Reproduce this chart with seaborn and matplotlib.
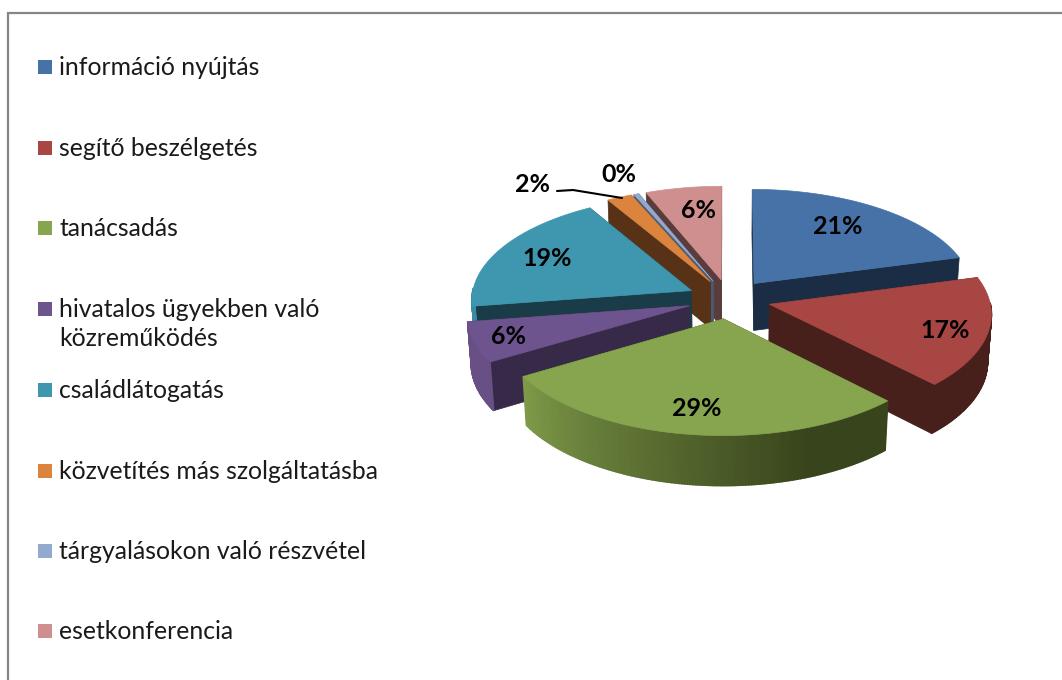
# -*- coding: utf-8 -*-
import numpy as np
import matplotlib
matplotlib.use("Agg")
import matplotlib.pyplot as plt
import seaborn as sns

# ==============================================================================
# DATOS
# ==============================================================================
categorias = ["információ nyújtás", "segítő beszélgetés", "tanácsadás",
              "hivatalos ügyekben való\nközreműködés", "családlátogatás",
              "közvetítés más szolgáltatásba", "tárgyalásokon való részvétel",
              "esetkonferencia"]
valores = [20.8, 17, 28.6, 6.2, 18.9, 2, 0.4, 6.1]

colores_top = ["#4672a8", "#a84644", "#87a54e", "#6e548e", "#3f96af", "#db843d", "#93a9cf", "#ce8f8e"]
colores_pared = ["#1a2d44", "#47201c", "#38441c", "#372a48", "#1a3c48", "#573217", "#4a5a75", "#5a3c3c"]

# layout (pixeles de la imagen)
LEYENDA_Y = [67, 148, 228, 309, 390, 471, 551, 631]
ETIQUETA_XY = [(838, 226), (945, 330), (697, 408), (508, 336), (547, 258), (533, 184), (619, 174), (699, 211)]

CX, CY = 729, 299
RX, RY = 220, 104
ALTO = 48
EXPLODE = 0.19
PERSP = 0.08
PERSP_Z = 0.015


def proyectar(x, y, z=0.0):
    p = 1 / (1 + PERSP * y + PERSP_Z * z)
    return CX + RX * x * p, CY + (-RY * y + ALTO * z) * p


def main():
    sns.set_theme(style="white")
    plt.rcParams["font.family"] = ["Lato", "DejaVu Sans"]

    fig, ax = plt.subplots(figsize=(10.62, 6.8), dpi=100)
    fig.subplots_adjust(0, 0, 1, 1)
    ax.set_xlim(0, 1062)
    ax.set_ylim(680, 0)
    ax.axis("off")

    # marco del grafico
    ax.plot([8, 8, 1062], [680, 13, 13], color="#868686", lw=1.6, solid_joinstyle="miter")

    fracs = np.array(valores) / np.sum(valores) * 360
    fin = np.cumsum(fracs)
    ini = fin - fracs
    medio = np.radians((ini + fin) / 2)

    # de atras hacia adelante
    orden = np.argsort(-np.cos(medio))
    for i in orden:
        ox, oy = EXPLODE * np.sin(medio[i]), EXPLODE * np.cos(medio[i])
        th = np.radians(np.linspace(ini[i], fin[i], max(int(fracs[i] * 1.5), 4)))
        bx, by = ox + np.sin(th), oy + np.cos(th)
        top = colores_top[i]
        pared = colores_pared[i]

        # paredes radiales
        for k in (0, -1):
            esquinas = [(ox, oy, 0), (bx[k], by[k], 0), (bx[k], by[k], 1), (ox, oy, 1)]
            xs, ys = zip(*[proyectar(*e) for e in esquinas])
            ax.fill(xs, ys, color=pared, lw=0.5)

        # borde exterior con degradado, solo la parte que mira al frente
        grad = sns.blend_palette([top, pared], 101)
        for j in range(len(th) - 1):
            medio_j = (th[j] + th[j + 1]) / 2
            if np.cos(medio_j) > 0.02:
                continue
            t = np.clip((250 - np.degrees(medio_j)) / 90, 0.12, 1)
            esquinas = [(bx[j], by[j], 0), (bx[j + 1], by[j + 1], 0), (bx[j + 1], by[j + 1], 1), (bx[j], by[j], 1)]
            xs, ys = zip(*[proyectar(*e) for e in esquinas])
            ax.fill(xs, ys, color=grad[int(t * 100)], lw=1.2)

        # cara superior
        xs, ys = proyectar(np.r_[ox, bx], np.r_[oy, by])
        ax.fill(xs, ys, color=top, lw=0.5)

    # etiquetas de datos
    for v, xy in zip(valores, ETIQUETA_XY):
        ax.text(xy[0], xy[1], f"{v:.0f}%", fontsize=18, fontweight="bold", color="black",
                ha="center", va="center")

    # linea guia del 2%
    ax.plot([557, 573, 622], [191, 190, 198], color="black", lw=1.5)

    # leyenda
    for nombre, color, y in zip(categorias, colores_top, LEYENDA_Y):
        ax.add_patch(plt.Rectangle((38, y - 7), 14, 14, color=color, lw=0))
        ax.text(59, y - 11, nombre, fontsize=17.8, color="#1a1a1a", ha="left", va="top",
                linespacing=1.34)

    fig.savefig("out.png", dpi=100)
    plt.close(fig)


if __name__ == "__main__":
    main()
